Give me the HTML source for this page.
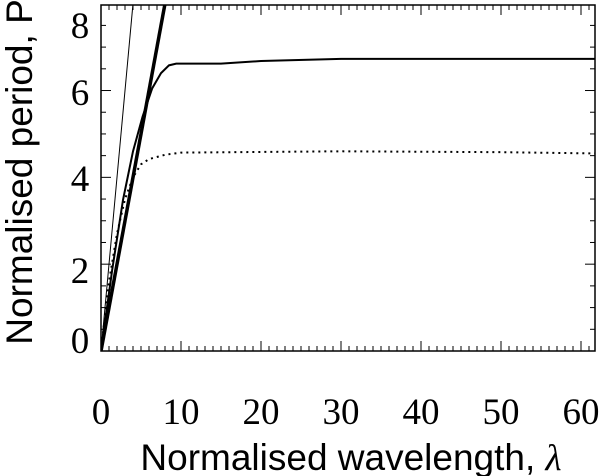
<!DOCTYPE html>
<html><head><meta charset="utf-8"><style>
body{margin:0;background:#fff;width:600px;height:476px;overflow:hidden}
svg{display:block}
</style></head><body>
<svg id="chart" width="600" height="476">
<g id="axes"></g>
<g id="series"></g>
<text x="32" y="172" transform="rotate(-90 32 172)" text-anchor="middle" font-family="Liberation Sans, sans-serif" font-size="37">Normalised period, P</text>
<text x="351" y="470" text-anchor="middle" font-family="Liberation Sans, sans-serif" font-size="37">Normalised wavelength, <tspan font-family="Liberation Serif, serif" font-style="italic">λ</tspan></text>
</svg>
<script>
const xTicks=[0,10,20,30,40,50,60];
const yTicks=[0,2,4,6,8];
const thinX=[0,4.2];const thinY=[0,8.4];
const thickX=[0,8.2];const thickY=[0,8.2];
const solidX=[0,1.4,2.75,4,5.2,6.4,7.5,8.5,9.4,15,20,30,62];
const solidY=[0,1.87,3.48,4.6,5.4,6.05,6.4,6.58,6.62,6.62,6.68,6.73,6.73];
const dotX=[0,1,2,3,4,5,6,8,10,30,50,62];
const dotY=[0,1.6,2.7,3.5,4.0,4.3,4.42,4.52,4.57,4.6,4.58,4.55];
const L=101,R=595,T=5,B=351,xMax=61.75,yMax=7.97;
const sx=v=>L+v/xMax*(R-L), sy=v=>B-v/yMax*(B-T);
const NS="http://www.w3.org/2000/svg";
function mk(tag,attrs,parent){const e=document.createElementNS(NS,tag);for(const k in attrs)e.setAttribute(k,attrs[k]);parent.appendChild(e);return e;}
const ax=document.getElementById('axes'),se=document.getElementById('series');
const cp=mk('clipPath',{id:'clip'},document.getElementById('chart'));
mk('rect',{x:L,y:T,width:R-L,height:B-T},cp);
const frame=mk('rect',{x:L,y:T,width:R-L,height:B-T,fill:'none',stroke:'#000','stroke-width':1.5},ax);


for(let v=0;v<=61;v++){const x=sx(v),len=v%10===0?10:5;
 mk('line',{x1:x,x2:x,y1:B,y2:B-len,stroke:'#000','stroke-width':1},ax);
 mk('line',{x1:x,x2:x,y1:T,y2:T+len,stroke:'#000','stroke-width':1},ax);}
for(let v=0;v<=7.9;v+=0.5){const y=sy(v),len=Math.abs(v%2)<0.01?10:5;
 mk('line',{x1:L,x2:L+len,y1:y,y2:y,stroke:'#000','stroke-width':1},ax);
 mk('line',{x1:R,x2:R-len,y1:y,y2:y,stroke:'#000','stroke-width':1},ax);}
xTicks.forEach(v=>{const t=mk('text',{x:sx(v),y:424,'text-anchor':'middle','font-family':'Liberation Serif, serif','font-size':37},ax);t.textContent=v;
 
 });
const yLabPos=[340,270,178,92,25];
yTicks.forEach((v,i)=>{const t=mk('text',{x:80,y:yLabPos[i]+13,'text-anchor':'middle','font-family':'Liberation Serif, serif','font-size':37},ax);t.textContent=v;
 
 });
function line(xs,ys,w,dash,name){const p=mk('polyline',{points:xs.map((x,i)=>sx(x)+','+sy(ys[i])).join(' '),fill:'none',stroke:'#000','stroke-width':w,'clip-path':'url(#clip)'},se);
 if(dash)p.setAttribute('stroke-dasharray',dash);
 
 }
line(thinX,thinY,1,null,'thin-line');
line(thickX,thickY,3.5,null,'thick-line');
line(solidX,solidY,2,null,'solid-curve');
line(dotX,dotY,2,'2,4','dotted-curve');
</script>
</body></html>
